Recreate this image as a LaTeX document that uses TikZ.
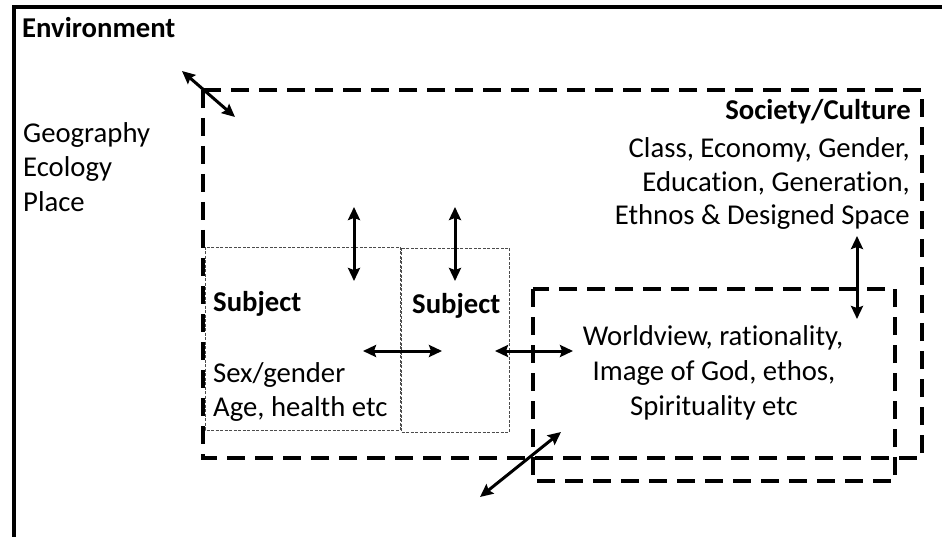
\documentclass[tikz,border=0pt]{standalone}
\usepackage{fontspec}
\setmainfont{Carlito}[RawFeature=-liga]
\usetikzlibrary{arrows.meta}
\tikzset{
  txt/.style={inner sep=0pt, font=\fontsize{28.7}{34}\selectfont},
  btxt/.style={txt, font=\fontsize{28.7}{34}\selectfont\bfseries},
  bigdash/.style={draw=black, line width=4pt, dash pattern=on 18pt off 10pt},
  thindash/.style={draw=black!70, line width=0.8pt, dash pattern=on 3pt off 1.5pt},
  dbl/.style={line width=3pt, {Stealth[length=13pt,width=12pt,inset=2pt]}-{Stealth[length=13pt,width=12pt,inset=2pt]}},
}
\begin{document}
\begin{tikzpicture}[x=1pt,y=-1pt]
\useasboundingbox (0,0) rectangle (942,537);
\clip (0,0) rectangle (942,537);
\fill[white] (0,0) rectangle (942,537);
% outer environment frame
\draw[line width=3.2pt] (14,600) -- (14,7) -- (1000,7);
% boxes
\draw[bigdash] (203,90) rectangle (922,458);
\draw[bigdash] (533,289) rectangle (895,481);
\draw[thindash] (205,247) rectangle (400,430);
\draw[thindash] (401,248) rectangle (509,432);
% texts
\node[btxt, anchor=base west] (env) at (22,38) {Environment};
\node[txt, anchor=base west] (geo1) at (23,143) {Geography};
\node[txt, anchor=base west] (geo2) at (23,177) {Ecology};
\node[txt, anchor=base west] (geo3) at (23,212) {Place};
\node[btxt, anchor=base east] (soc0) at (911,120) {Society/Culture};
\node[txt, anchor=base east] (soc1) at (910,158) {Class, Economy, Gender,};
\node[txt, anchor=base east] (soc2) at (910,192) {Education, Generation,};
\node[txt, anchor=base east] (soc3) at (910,225) {Ethnos \& Designed Space};
\node[btxt, anchor=base west] (sub1) at (213,312) {Subject};
\node[txt, anchor=base west] (sub1a) at (213,382) {Sex/gender};
\node[txt, anchor=base west] (sub1b) at (213,416) {Age, health etc};
\node[btxt, anchor=base west] (sub2) at (412,313) {Subject};
\node[txt, anchor=base] (wv1) at (713,345) {Worldview, rationality,};
\node[txt, anchor=base] (wv2) at (714,380) {Image of God, ethos,};
\node[txt, anchor=base] (wv3) at (714,415) {Spirituality etc};
% arrow endpoints
\coordinate (a1s) at (182,71);  \coordinate (a1e) at (235,117);
\coordinate (a2s) at (354,207); \coordinate (a2e) at (354,281);
\coordinate (a3s) at (455,207); \coordinate (a3e) at (455,281);
\coordinate (a4s) at (363,351); \coordinate (a4e) at (442,351);
\coordinate (a5s) at (495,351); \coordinate (a5e) at (573,351);
\coordinate (a6s) at (857,236); \coordinate (a6e) at (857,319);
\coordinate (a7s) at (480,497); \coordinate (a7e) at (561,432);
\draw[dbl] (a1s) -- (a1e);
\draw[dbl] (a2s) -- (a2e);
\draw[dbl] (a3s) -- (a3e);
\draw[dbl] (a4s) -- (a4e);
\draw[dbl] (a5s) -- (a5e);
\draw[dbl] (a6s) -- (a6e);
\draw[dbl] (a7s) -- (a7e);
\end{tikzpicture}
\end{document}
